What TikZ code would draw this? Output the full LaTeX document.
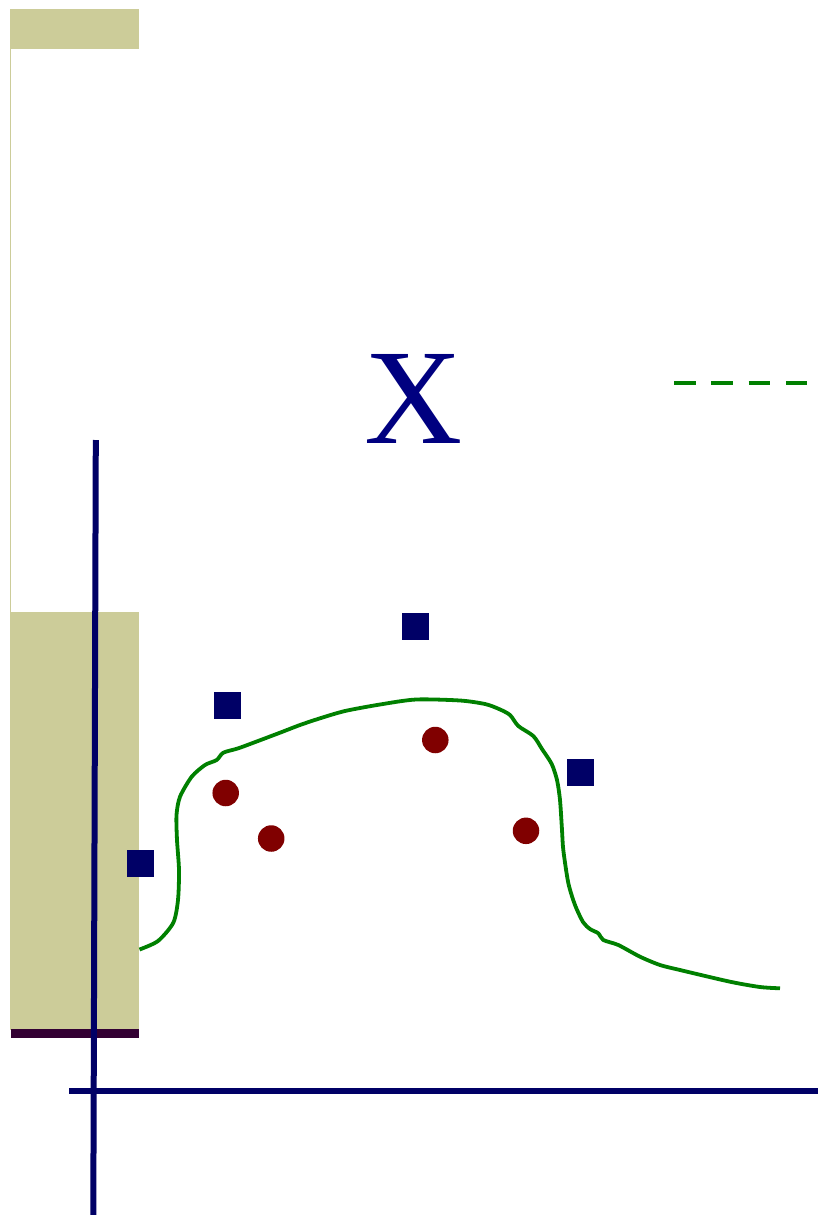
\documentclass[tikz,border=0pt]{standalone}
\usepackage{fontspec}
\newfontfamily\xfont{Liberation Serif}
\definecolor{tan}{RGB}{204,204,153}
\definecolor{navyc}{RGB}{0,0,102}
\definecolor{xnavy}{RGB}{0,0,128}
\definecolor{darkbar}{RGB}{51,0,51}
\definecolor{greenc}{RGB}{0,128,0}
\definecolor{redc}{RGB}{128,0,0}
\tikzset{
  sq/.style={rectangle, fill=navyc, minimum size=27pt, inner sep=0pt, draw=none},
  dot/.style={circle, fill=redc, minimum size=26.5pt, inner sep=0pt, draw=none},
  axis/.style={draw=navyc, line width=6pt},
  curve/.style={draw=greenc, line width=3.8pt, line join=round},
}
\begin{document}
\begin{tikzpicture}[x=1pt,y=-1pt]
\useasboundingbox (0,0) rectangle (818,1215);
% tan bars
\fill[tan] (10,9) rectangle (139,49.5);
\fill[tan] (10,612) rectangle (139,1030);
\draw[tan, line width=1.4pt] (10.7,49) -- (10.7,612);
\fill[darkbar] (11,1029) rectangle (138.7,1037.5);
% axes
\coordinate (vtop) at (95.8,440);
\coordinate (vbot) at (93.3,1215);
\coordinate (hl) at (69,1091);
\coordinate (hr) at (818,1091);
\draw[axis] (vtop) -- (vbot);
\draw[axis] (hl) -- (hr);
% label
\node[anchor=base, inner sep=0pt, text=xnavy, font=\xfont\fontsize{136}{136}\selectfont] (xlab) at (414,443.3) {X};
% dashed legend line
\coordinate (d1) at (674,383);
\coordinate (d2) at (808,383);
\draw[greenc, line width=4.6pt, dash pattern=on 21.5pt off 15.8pt] (d1) -- (d2);
% squares
\node[sq] (s1) at (415.5,626.5) {};
\node[sq] (s2) at (227.5,705.5) {};
\node[sq] (s3) at (580,772.5) {};
\node[sq] (s4) at (140.5,863.5) {};
% circles
\node[dot] (c1) at (225.7,793) {};
\node[dot] (c2) at (271.2,838.5) {};
\node[dot] (c3) at (435.3,740) {};
\node[dot] (c4) at (526,830.8) {};
% curve
\draw[curve] plot[smooth, tension=0.45] coordinates {
 (139.5,949.5) (158,941) (173.3,922.7) (178,900) (179,870) (177,840) (176.5,815) (180,796.7)
 (191.7,776.7) (205,765) (216.7,760) (223.3,752.7) (238.3,748.3) (258,741) (280,732.7)
 (300,725) (320,718.3) (345,711) (380,704.5) (416,699.5) (460,700.5) (485,704) (499,709)
 (510,715) (518.3,726) (533.3,736) (542,749) (551.7,764) (557,780) (560,800) (562,830)
 (563.3,850) (568.3,883) (575,905) (583,922) (590,929) (598.3,933.3) (603.3,940)
 (618.3,945) (640,956.7) (660,965) (680,970) (730,981.7) (760,987) (780,988.3)};
\end{tikzpicture}
\end{document}
